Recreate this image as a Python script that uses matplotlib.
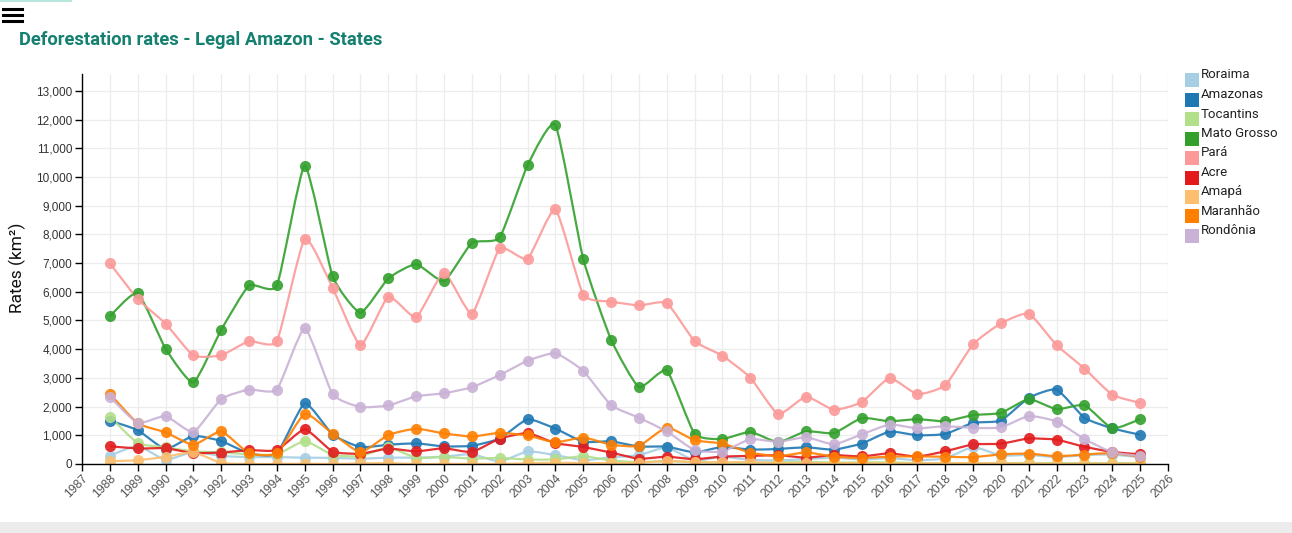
import matplotlib.pyplot as plt
import numpy as np
from matplotlib.patches import Rectangle, PathPatch
from matplotlib.path import Path
from matplotlib.lines import Line2D
from matplotlib.ticker import FuncFormatter, MultipleLocator

# Taxas anuais de desmatamento (km²) por estado - Amazônia Legal
years = list(range(1988, 2026))

roraima = [290, 630, 150, 420, 281, 240, 240, 220, 214, 184, 223, 220, 253, 345, 84, 439, 311, 133, 231,
           309, 574, 121, 256, 141, 124, 170, 219, 156, 202, 132, 195, 590, 297, 315, 240, 310, 330, 230]
amazonas = [1510, 1180, 520, 980, 799, 370, 370, 2114, 1023, 589, 670, 720, 612, 634, 885, 1558, 1232, 775, 788,
            610, 604, 405, 595, 502, 523, 583, 500, 712, 1129, 1001, 1045, 1434, 1512, 2306, 2594, 1610, 1240, 1020]
tocantins = [1650, 730, 580, 440, 409, 333, 333, 797, 320, 273, 576, 216, 244, 189, 212, 156, 158, 271, 124,
             63, 107, 61, 49, 40, 52, 74, 50, 57, 58, 31, 25, 23, 25, 37, 27, 30, 30, 30]
mato_grosso = [5140, 5960, 4020, 2840, 4674, 6220, 6220, 10391, 6543, 5271, 6466, 6963, 6369, 7703, 7892, 10405,
               11814, 7145, 4333, 2678, 3258, 1049, 871, 1120, 757, 1139, 1075, 1601, 1489, 1561, 1490, 1702,
               1779, 2263, 1906, 2050, 1240, 1565]
para = [6990, 5750, 4890, 3780, 3787, 4284, 4284, 7845, 6135, 4139, 5829, 5111, 6671, 5237, 7510, 7145, 8870,
        5899, 5659, 5526, 5607, 4281, 3770, 3008, 1741, 2346, 1887, 2153, 2992, 2433, 2744, 4172, 4899, 5238,
        4141, 3326, 2410, 2130]
acre = [620, 540, 550, 380, 400, 482, 482, 1208, 433, 358, 536, 441, 547, 419, 883, 1078, 728, 592, 398, 184,
        254, 167, 259, 280, 305, 221, 309, 264, 372, 257, 444, 682, 706, 889, 847, 600, 420, 337]
amapa = [100, 130, 250, 410, 36, 0, 0, 9, 0, 18, 30, 0, 0, 7, 0, 25, 46, 33, 30, 39, 100, 70, 53, 66, 27, 23,
         31, 25, 17, 24, 24, 32, 24, 17, 7, 10, 10, 10]
maranhao = [2450, 1420, 1100, 670, 1135, 372, 372, 1745, 1061, 409, 1012, 1230, 1065, 958, 1085, 993, 755, 922,
            674, 631, 1271, 828, 712, 396, 269, 403, 257, 209, 258, 265, 253, 237, 336, 363, 271, 330, 380, 250]
rondonia = [2340, 1430, 1670, 1110, 2265, 2595, 2595, 4730, 2432, 1986, 2041, 2358, 2465, 2673, 3099, 3597, 3858,
            3244, 2049, 1611, 1136, 482, 435, 865, 773, 932, 684, 1030, 1376, 1243, 1316, 1257, 1273, 1673, 1480,
            870, 406, 280]

states = ["Roraima", "Amazonas", "Tocantins", "Mato Grosso", "Pará", "Acre", "Amapá", "Maranhão", "Rondônia"]
series = [roraima, amazonas, tocantins, mato_grosso, para, acre, amapa, maranhao, rondonia]
colors = ["#a6cee3", "#1f78b4", "#b2df8a", "#33a02c", "#fb9a99", "#e31a1c", "#fdbf6f", "#ff7f00", "#cab2d6"]


def cardinal_path(x, y, tension=0.5):
    # curva cardinal (como d3.curveCardinal) passando pelos pontos
    p = np.column_stack([np.asarray(x, float), np.asarray(y, float)])
    k = (1 - tension) / 6
    n = len(p)
    verts = [tuple(p[0])]
    codes = [Path.MOVETO]
    for i in range(n - 1):
        p0 = p[i - 1] if i > 0 else p[i + 1]
        p3 = p[i + 2] if i + 2 < n else p[i]
        c1 = p[i] + k * (p[i + 1] - p0) if i > 0 else p[i]
        c2 = p[i + 1] - k * (p3 - p[i]) if i + 2 < n else p[i + 1]
        verts += [tuple(c1), tuple(c2), tuple(p[i + 1])]
        codes += [Path.CURVE4] * 3
    return Path(verts, codes)


plt.rcParams['font.family'] = ['Roboto', 'DejaVu Sans']

fig = plt.figure(figsize=(12.92, 5.33), dpi=100)
ax = fig.add_axes([82 / 1292, 69 / 533, (1168 - 82) / 1292, (464 - 74) / 533])

for name, vals, c in zip(states, series, colors):
    ax.add_patch(PathPatch(cardinal_path(years, vals), facecolor='none', edgecolor=c, linewidth=1.6, alpha=0.9))
    ax.plot(years, vals, linestyle='none', color=c, alpha=0.9,
            marker='o', markersize=8, markeredgewidth=0, label=name)

ax.set_xlim(1987, 2026)
ax.set_ylim(0, 13586)
ax.xaxis.set_major_locator(MultipleLocator(1))
ax.yaxis.set_major_locator(MultipleLocator(1000))
ax.yaxis.set_major_formatter(FuncFormatter(lambda v, p: f"{int(v):,}"))
ax.grid(True, color="#ececec", linewidth=0.9)
ax.set_axisbelow(True)
for s in ["top", "right"]:
    ax.spines[s].set_visible(False)
for s in ["left", "bottom"]:
    ax.spines[s].set_color("black")
    ax.spines[s].set_linewidth(1.0)
ax.tick_params(axis='both', length=5, width=1, color='black')
ax.tick_params(axis='y', labelsize=8.5, pad=2, labelcolor='#333333')
ax.tick_params(axis='x', labelsize=8.8, pad=1, labelcolor='#555555')
for lab in ax.get_xticklabels():
    lab.set_rotation(45)
    lab.set_ha('right')
    lab.set_rotation_mode('anchor')
    lab.set_family(['Liberation Sans', 'DejaVu Sans'])
for lab in ax.get_yticklabels():
    lab.set_family(['Liberation Sans', 'DejaVu Sans'])

fig.text(17 / 1292, 1 - 268 / 533, "Rates (km²)", rotation=90, va='center', ha='center',
         fontsize=12.5, color='#111111')

fig.text(19 / 1292, 1 - 40 / 533, "Deforestation rates - Legal Amazon - States", fontsize=13.2,
         fontweight='bold', color='#15806f', va='center', ha='left')

# legenda manual
for i, (name, c) in enumerate(zip(states, colors)):
    yc = 75 + i * 19.5
    fig.add_artist(Rectangle((1185 / 1292, 1 - (yc + 12) / 533), 14 / 1292, 14 / 533,
                             transform=fig.transFigure, color=c, linewidth=0))
    fig.text(1201 / 1292, 1 - yc / 533, name, fontsize=9.5, color='#222222', va='center', ha='left')

# menu e barras da página
for yy in [9, 15, 21]:
    fig.add_artist(Line2D([3 / 1292, 22 / 1292], [1 - yy / 533, 1 - yy / 533], transform=fig.transFigure,
                          color='black', linewidth=2.2))
fig.add_artist(Rectangle((0, 1 - 2 / 533), 72 / 1292, 2 / 533, transform=fig.transFigure,
                         color='#b8e6dd', linewidth=0))
fig.add_artist(Rectangle((0, 0), 1, 11 / 533, transform=fig.transFigure, color='#ececec', linewidth=0))

fig.savefig("out.png", dpi=100)
